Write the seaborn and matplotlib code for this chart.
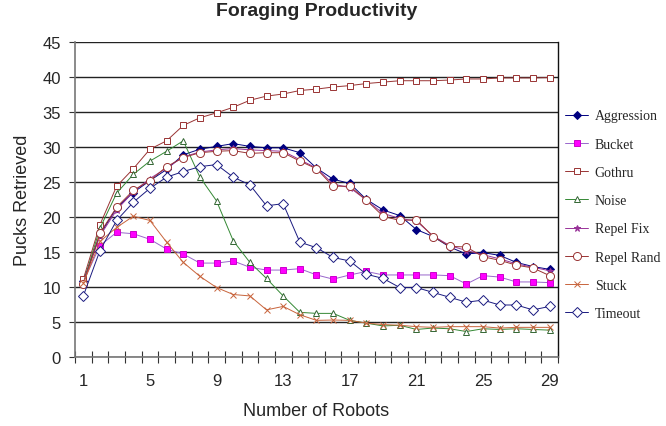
import matplotlib
matplotlib.use("Agg")
import matplotlib.pyplot as plt
import seaborn as sns
import pandas as pd

# ── Data ─────────────────────────────────────────────────────────────────────
robots = list(range(1, 30))

aggression = [10.8, 17.5, 21.3, 23.5, 25.2, 26.8, 28.9, 29.7, 30.1, 30.5,
              30.1, 29.9, 29.9, 29.2, 27.0, 25.4, 24.8, 22.5, 21.0, 20.2,
              18.2, 17.2, 15.7, 14.7, 14.9, 14.5, 13.5, 12.9, 12.5]
bucket = [10.7, 15.9, 17.8, 17.6, 16.8, 15.4, 14.7, 13.4, 13.4, 13.7,
          12.8, 12.4, 12.4, 12.6, 11.7, 11.1, 11.7, 12.2, 11.7, 11.7,
          11.7, 11.7, 11.6, 10.4, 11.6, 11.4, 10.7, 10.7, 10.6]
gothru = [11.1, 18.9, 24.4, 26.9, 29.7, 30.9, 33.1, 34.2, 34.9, 35.7,
          36.7, 37.3, 37.6, 38.1, 38.3, 38.6, 38.8, 39.1, 39.3, 39.5,
          39.5, 39.5, 39.6, 39.75, 39.75, 39.9, 39.9, 39.9, 39.95]
noise = [10.5, 18.4, 23.4, 26.1, 28.0, 29.4, 30.9, 25.7, 22.3, 16.6,
         13.5, 11.2, 8.7, 6.35, 6.2, 6.2, 5.2, 4.8, 4.4, 4.5,
         3.9, 4.1, 4.0, 3.6, 4.0, 3.9, 4.0, 3.9, 3.8]
repel_fix = [10.6, 17.3, 21.0, 23.6, 25.5, 27.0, 28.6, 29.3, 29.6, 29.8,
             29.6, 29.5, 29.4, 28.2, 27.0, 24.7, 24.2, 22.4, 20.5, 19.8,
             19.4, 17.3, 15.9, 15.2, 14.6, 14.0, 13.3, 12.8, 12.3]
repel_rand = [10.4, 17.7, 21.4, 23.8, 25.2, 27.2, 28.5, 29.2, 29.4, 29.5,
              29.1, 29.2, 29.2, 28.0, 26.9, 24.4, 24.4, 22.4, 20.1, 19.5,
              19.6, 17.2, 15.8, 15.7, 14.3, 13.8, 13.1, 12.7, 11.6]
stuck = [10.5, 16.5, 18.5, 20.1, 19.5, 16.4, 13.5, 11.5, 9.9, 8.9,
         8.7, 6.7, 7.2, 6.0, 5.2, 5.25, 5.2, 4.8, 4.6, 4.5,
         4.3, 4.2, 4.3, 4.3, 4.3, 4.1, 4.2, 4.2, 4.2]
timeout = [8.7, 15.2, 19.5, 22.1, 24.1, 25.7, 26.5, 27.2, 27.5, 25.7,
           24.6, 21.6, 21.9, 16.4, 15.6, 14.2, 13.7, 11.8, 11.2, 9.9,
           9.9, 9.2, 8.5, 7.8, 8.1, 7.4, 7.4, 6.7, 7.2]

series_names = ["Aggression", "Bucket", "Gothru", "Noise",
                "Repel Fix", "Repel Rand", "Stuck", "Timeout"]
series_values = [aggression, bucket, gothru, noise,
                 repel_fix, repel_rand, stuck, timeout]

# ── Styling per series: line colour, marker, face, edge, size ───────────────
STYLES = {
    "Aggression": ("#000080", "D", "#000080", "#000080", 3.8),
    "Bucket":     ("#9966CC", "s", "#FF00FF", "#CC00CC", 4.6),
    "Gothru":     ("#993333", "s", "white", "#993333", 4.6),
    "Noise":      ("#338833", "^", "white", "#336633", 5),
    "Repel Fix":  ("#993399", "*", "#993399", "#993399", 5),
    "Repel Rand": ("#993333", "o", "white", "#993333", 5.8),
    "Stuck":      ("#C8643C", "x", "#C8643C", "#C8643C", 5),
    "Timeout":    ("#1A1A80", "D", "white", "#1A1A80", 5),
}

rows = []
for name, vals in zip(series_names, series_values):
    for x, v in zip(robots, vals):
        rows.append({"Robots": x, "Pucks": v, "Series": name})
df = pd.DataFrame(rows)

sns.set_theme(style="white")
plt.rcParams["font.family"] = ["Liberation Sans", "DejaVu Sans"]

fig = plt.figure(figsize=(6.66, 4.27), dpi=100)
ax = fig.add_axes([0.1126, 0.1623, 0.8378 - 0.1126, 0.8986 - 0.1623])

handles = []
for name in series_names:
    lc, mk, fc, ec, ms = STYLES[name]
    sub = df[df["Series"] == name]
    sns.lineplot(data=sub, x="Robots", y="Pucks", ax=ax, color=lc,
                 linewidth=0.7, marker=mk, markersize=ms,
                 markerfacecolor=fc, markeredgecolor=ec, markeredgewidth=0.7,
                 legend=False)
    handles.append(ax.lines[-1])

# ── Axes ─────────────────────────────────────────────────────────────────────
ax.set_xlim(0.5, 29.5)
ax.set_ylim(0, 45)
ax.set_yticks(range(0, 46, 5))
ax.set_xticks(range(1, 30, 4))
ax.set_xticks([i + 0.5 for i in range(0, 30)], minor=True)
ax.tick_params(axis="x", which="major", length=0, pad=12, labelsize=12)
ax.tick_params(axis="x", which="minor", direction="inout", length=8,
               width=0.8, color="#333333", bottom=True)
ax.tick_params(axis="y", which="major", direction="out", length=4,
               width=0.8, color="#333333", left=True, labelsize=12, pad=6)

ax.yaxis.grid(True, color="#222222", linewidth=1.0)
ax.set_axisbelow(True)
for side in ["left", "bottom"]:
    ax.spines[side].set_color("#777777")
    ax.spines[side].set_linewidth(1.2)
ax.spines["top"].set_visible(False)
ax.spines["right"].set_color("#111111")
ax.spines["right"].set_linewidth(1.0)

ax.set_xlabel("Number of Robots", fontsize=13, labelpad=10)
ax.set_ylabel("Pucks Retrieved", fontsize=13, labelpad=8)
fig.text(0.475, 1 - 12 / 427, "Foraging Productivity", fontsize=14,
         fontweight="bold", ha="center", va="center")

ax.legend(handles, series_names, loc="center left",
          bbox_to_anchor=(0.848, 0.4945), bbox_transform=fig.transFigure,
          frameon=False, handlelength=1.7, labelspacing=1.1,
          handletextpad=0.45, borderaxespad=0, borderpad=0,
          prop={"family": ["Liberation Serif", "DejaVu Serif"], "size": 10})

fig.savefig("out.png", dpi=100)
